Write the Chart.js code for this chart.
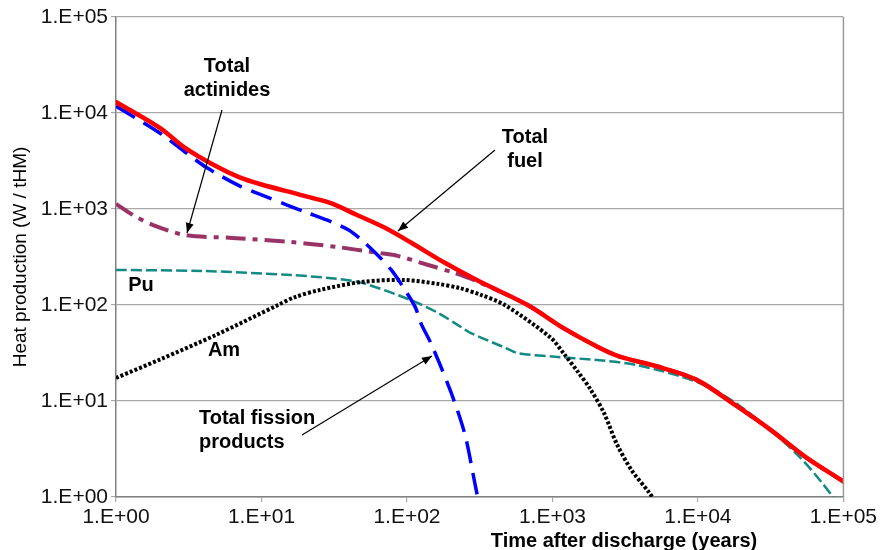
<!DOCTYPE html>
<html>
<head>
<meta charset="utf-8">
<script src="https://cdn.jsdelivr.net/npm/chart.js@4.4.0/dist/chart.umd.min.js"></script>
<style>
  html, body { margin: 0; padding: 0; background: #fff; }
  #wrap { width: 880px; height: 550px; }
</style>
</head>
<body>
<div id="wrap"><canvas id="myChart" width="880" height="550"></canvas></div>
<script>
// values: [years, W/tHM]
const totalFuel = [[1,13000],[2,7000],[3,4300],[4.7,2870],[7,2150],[10,1800],[18,1420],[30,1150],[45,870],[70,640],[107,445],[182,275],[306,180],[675,100],[1200,57],[2020,37],[2900,29],[5200,23],[9800,16.6],[18000,9.1],[31600,5.0],[55000,2.6],[100000,1.45]];
const fissionProducts = [[1,11800],[2,6200],[3,3900],[4.2,2700],[7,1750],[10,1400],[15,1100],[20,930],[30,740],[40,600],[50,460],[63,330],[78,232],[94,154],[114,95],[125,64],[146,40],[200,12.5],[250,4.5],[290,1.5],[320,0.7]];
const actinides = [[1,1130],[1.3,870],[1.8,680],[3,535],[6.3,500],[16,453],[34,400],[63,350],[83,330],[140,261],[213,215],[306,175],[675,100],[1200,57],[2020,37],[2900,29],[5200,23],[9800,16.6],[18000,9.1],[31600,5.0],[55000,2.6],[100000,1.45]];
const plutonium = [[1,232],[4,226],[16,205],[30,190],[49,170],[107,112],[163,83],[235,59],[275,51],[470,36],[575,31.6],[1000,29],[2020,26.7],[3800,23.7],[9800,15.8],[19000,9.1],[47000,2.87],[85000,1.0],[100000,0.65]];
const americium = [[1,17.4],[2,27],[4.9,49],[13,100],[17,121],[25,143],[49,174],[97,182],[163,166],[230,150],[320,128],[470,100],[967,46],[1200,31],[1500,20],[1810,13.5],[2260,7.5],[2760,3.6],[3500,1.9],[4650,1.1],[5200,0.85]];
const decades = [1, 10, 100, 1000, 10000, 100000];

const toPts = arr => arr.map(p => ({ x: p[0], y: p[1] }));
const sciLabel = v => '1.E+' + String(Math.round(Math.log10(v))).padStart(2, '0');
const FONT = "'Liberation Sans', Arial, sans-serif";

// text labels, arrows, box edge and axis titles
const decorations = {
    id: 'decorations',
    afterDraw(chart) {
        const ctx = chart.ctx;
        const a = chart.chartArea;
        ctx.save();
        // right edge of the plot box
        ctx.strokeStyle = '#9a9a9a';
        ctx.lineWidth = 1.5;
        ctx.beginPath();
        ctx.moveTo(a.right, a.top);
        ctx.lineTo(a.right, a.bottom);
        ctx.stroke();

        ctx.fillStyle = '#000';
        ctx.font = 'bold 20px ' + FONT;
        ctx.textBaseline = 'middle';
        ctx.textAlign = 'center';
        ctx.fillText('Total', 227, 66);
        ctx.fillText('actinides', 227, 90);
        ctx.fillText('Total', 525, 137);
        ctx.fillText('fuel', 525, 161);
        ctx.fillText('Pu', 141, 285);
        ctx.fillText('Am', 224, 350);
        ctx.textAlign = 'left';
        ctx.fillText('Total fission', 199, 418);
        ctx.fillText('products', 199, 442);

        const arrow = (x1, y1, x2, y2) => {
            ctx.strokeStyle = '#000';
            ctx.lineWidth = 1.2;
            ctx.beginPath();
            ctx.moveTo(x1, y1);
            ctx.lineTo(x2, y2);
            ctx.stroke();
            const ang = Math.atan2(y2 - y1, x2 - x1);
            ctx.beginPath();
            ctx.moveTo(x2, y2);
            ctx.lineTo(x2 - 10 * Math.cos(ang) + 4 * Math.sin(ang), y2 - 10 * Math.sin(ang) - 4 * Math.cos(ang));
            ctx.lineTo(x2 - 10 * Math.cos(ang) - 4 * Math.sin(ang), y2 - 10 * Math.sin(ang) + 4 * Math.cos(ang));
            ctx.closePath();
            ctx.fill();
        };
        arrow(222, 110, 187, 233);
        arrow(495, 150, 398, 231);
        arrow(302, 435, 432, 356);

        // axis titles
        ctx.font = 'bold 20px ' + FONT;
        ctx.textAlign = 'center';
        ctx.textBaseline = 'alphabetic';
        ctx.fillText('Time after discharge (years)', 624, 547);
        ctx.translate(21, 257);
        ctx.rotate(-Math.PI / 2);
        ctx.font = '19px ' + FONT;
        ctx.textBaseline = 'middle';
        ctx.fillText('Heat production (W / tHM)', 0, 0);
        ctx.restore();
    }
};

const logAxis = (onArea) => ({
    type: 'logarithmic',
    min: 1,
    max: 100000,
    afterBuildTicks: scale => { scale.ticks = decades.map(v => ({ value: v, major: true })); },
    ticks: {
        callback: v => sciLabel(v),
        font: { family: FONT, size: 21 },
        color: '#111',
        padding: 3,
        maxRotation: 0,
        autoSkip: false
    },
    grid: { drawOnChartArea: onArea, color: '#a8a8a8', tickLength: 5, lineWidth: 1.2 },
    border: { color: '#808080', width: 1.5 }
});

const xAxis = logAxis(false);
xAxis.afterFit = scale => { scale.height = 53; };
const yAxis = logAxis(true);
yAxis.afterFit = scale => { scale.width = 116; };

new Chart(document.getElementById('myChart').getContext('2d'), {
    type: 'line',
    data: {
        datasets: [
            { label: 'Total fuel', data: toPts(totalFuel), borderColor: '#ff0000', borderWidth: 4.5, borderCapStyle: 'round' },
            { label: 'Total fission products', data: toPts(fissionProducts), borderColor: '#0000ff', borderWidth: 3.5, borderDash: [22, 10] },
            { label: 'Total actinides', data: toPts(actinides), borderColor: '#993366', borderWidth: 4, borderDash: [20, 7, 5, 7] },
            { label: 'Am', data: toPts(americium), borderColor: '#000000', borderWidth: 4, borderDash: [3, 2] },
            { label: 'Pu', data: toPts(plutonium), borderColor: '#128a84', borderWidth: 2.5, borderDash: [11, 4] }
        ]
    },
    options: {
        responsive: false,
        animation: false,
        layout: { padding: { left: 0, right: 32, top: 17, bottom: 0 } },
        elements: {
            point: { radius: 0 },
            line: { tension: 0.3, fill: false }
        },
        plugins: { legend: { display: false }, tooltip: { enabled: false } },
        scales: { x: xAxis, y: yAxis }
    },
    plugins: [decorations]
});
</script>
</body>
</html>
